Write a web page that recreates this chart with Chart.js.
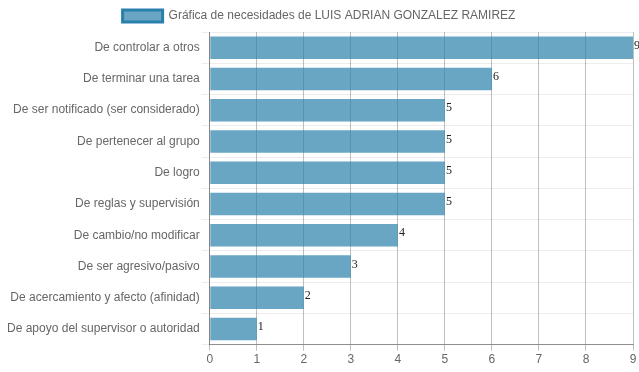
<!DOCTYPE html>
<html><head><meta charset="utf-8">
<script src="https://cdn.jsdelivr.net/npm/chart.js@4/dist/chart.umd.min.js"></script>
<style>html,body{margin:0;padding:0;background:#fff}#wrap{width:639px;height:372px}</style>
</head><body><div id="wrap"><canvas id="c"></canvas></div>
<script>
const categories = ["De controlar a otros","De terminar una tarea","De ser notificado (ser considerado)","De pertenecer al grupo","De logro","De reglas y supervisión","De cambio/no modificar","De ser agresivo/pasivo","De acercamiento y afecto (afinidad)","De apoyo del supervisor o autoridad"];
const values = [9,6,5,5,5,5,4,3,2,1];
const seriesName = "Gráfica de necesidades de LUIS ADRIAN GONZALEZ RAMIREZ";
const xTicks = [0,1,2,3,4,5,6,7,8,9];

Chart.defaults.font.family = "'Liberation Sans', Arial, sans-serif";
Chart.defaults.font.size = 12;
Chart.defaults.color = '#666';

const labelPlugin = {
  id: 'endLabels',
  afterDatasetsDraw(chart) {
    const ctx = chart.ctx;
    const meta = chart.getDatasetMeta(0);
    ctx.save();
    ctx.font = "12px 'Liberation Serif', serif";
    ctx.fillStyle = '#222';
    ctx.textAlign = 'left';
    ctx.textBaseline = 'middle';
    meta.data.forEach((el, i) => {
      ctx.fillText(String(values[i]), el.x + 1, el.y - 2);
    });
    ctx.restore();
  }
};

new Chart(document.getElementById('c'), {
  type: 'bar',
  data: {
    labels: categories,
    datasets: [{
      label: seriesName,
      data: values,
      backgroundColor: 'rgba(42,128,171,0.7)',
      borderColor: 'rgba(42,128,171,1)',
      borderWidth: 0
    }]
  },
  options: {
    indexAxis: 'y',
    responsive: true,
    maintainAspectRatio: false,
    animation: false,
    layout: { padding: { right: 6, top: 0, left: 5, bottom: 3 } },
    plugins: {
      tooltip: { enabled: false },
      legend: {
        labels: {
          boxWidth: 40,
          boxHeight: 12,
          color: '#666',
          font: { size: 12 },
          generateLabels(chart) {
            return [{
              text: seriesName,
              fillStyle: 'rgba(42,128,171,0.7)',
              strokeStyle: 'rgba(42,128,171,1)',
              lineWidth: 3,
              datasetIndex: 0,
              hidden: false,
              fontColor: '#666'
            }];
          }
        }
      }
    },
    scales: {
      x: {
        min: 0, max: 9,
        afterBuildTicks(axis) { axis.ticks = xTicks.map(v => ({ value: v })); },
        grid: { color: 'rgba(0,0,0,0.25)', tickLength: 6, drawOnChartArea: true },
        border: { color: 'rgba(0,0,0,0.4)' },
        ticks: { color: '#666', padding: 2 }
      },
      y: {
        grid: { color: 'rgba(0,0,0,0.07)', offset: true, tickLength: 8 },
        border: { color: 'rgba(0,0,0,0.3)' },
        ticks: { color: '#666', padding: 2 }
      }
    }
  },
  plugins: [labelPlugin]
});
</script></body></html>
